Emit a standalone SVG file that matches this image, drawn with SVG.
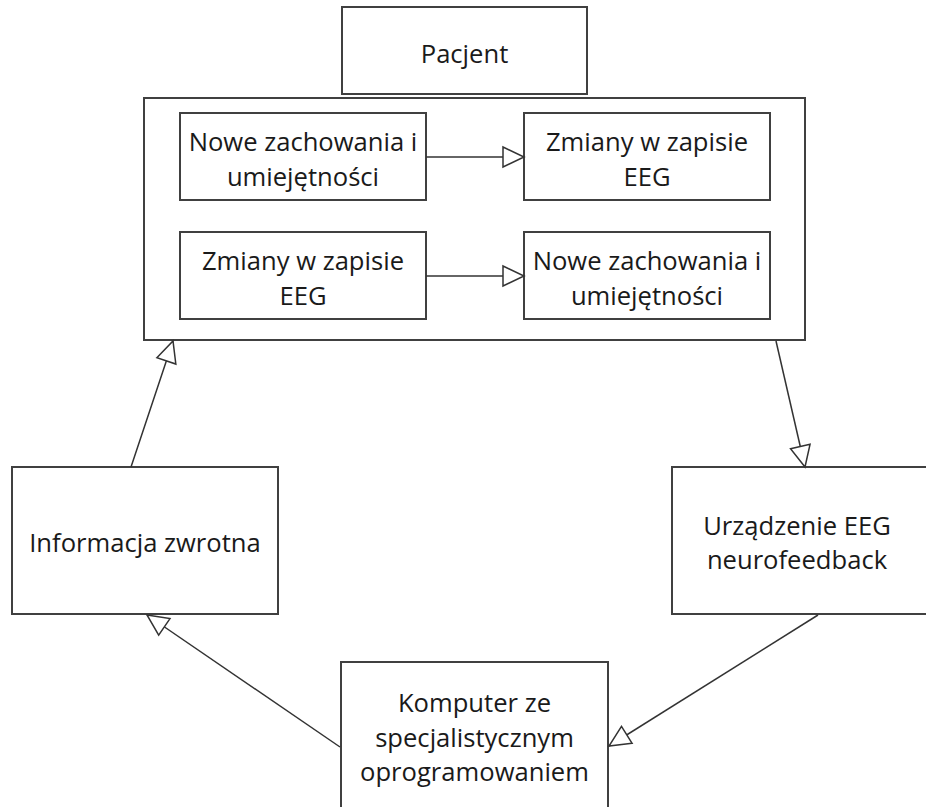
<svg xmlns="http://www.w3.org/2000/svg" width="926" height="807" viewBox="0 0 926 807">
<style>
.box{fill:#fff;stroke:#404040;stroke-width:2}
.lbl{font-family:"Open Sans","Noto Sans","Liberation Sans",sans-serif;font-size:25.6px;fill:#1a1a1a;text-anchor:middle}
.conn{stroke:#333;stroke-width:1.5;fill:none;marker-end:url(#tri)}
</style>
<defs>
<marker id="tri" markerUnits="userSpaceOnUse" markerWidth="26" markerHeight="26" viewBox="0 0 26 26" refX="23" refY="13" orient="auto">
<path d="M2,3 L23,13 L2,23 Z" fill="#fff" stroke="#333" stroke-width="1.5"/>
</marker>
</defs>
<rect width="926" height="807" fill="#fff"/>
<g id="pacjent">
<rect class="box" x="342" y="7" width="245" height="87"/>
<text class="lbl" x="464.5" y="63">Pacjent</text>
</g>
<g id="outer">
<rect class="box" x="144" y="98" width="661" height="242"/>
</g>
<g id="tl">
<rect class="box" x="180" y="113" width="246" height="87"/>
<text class="lbl" x="303" y="151">Nowe zachowania i</text>
<text class="lbl" x="303" y="185.5">umiejętności</text>
</g>
<g id="tr">
<rect class="box" x="524" y="113" width="246" height="87"/>
<text class="lbl" x="647" y="151">Zmiany w zapisie</text>
<text class="lbl" x="647" y="185.5">EEG</text>
</g>
<g id="bl">
<rect class="box" x="180" y="232" width="246" height="87"/>
<text class="lbl" x="303" y="270">Zmiany w zapisie</text>
<text class="lbl" x="303" y="304.5">EEG</text>
</g>
<g id="br">
<rect class="box" x="524" y="232" width="246" height="87"/>
<text class="lbl" x="647" y="270">Nowe zachowania i</text>
<text class="lbl" x="647" y="304.5">umiejętności</text>
</g>
<g id="informacja">
<rect class="box" x="12" y="467" width="266" height="147"/>
<text class="lbl" x="145" y="552">Informacja zwrotna</text>
</g>
<g id="urzadzenie">
<rect class="box" x="672" y="467" width="260" height="147"/>
<text class="lbl" x="797" y="534.5">Urządzenie EEG</text>
<text class="lbl" x="797" y="569">neurofeedback</text>
</g>
<g id="komputer">
<rect class="box" x="341" y="662" width="267" height="160"/>
<text class="lbl" x="474.5" y="712">Komputer ze</text>
<text class="lbl" x="474.5" y="746.5">specjalistycznym</text>
<text class="lbl" x="474.5" y="781">oprogramowaniem</text>
</g>
<g id="connectors">
<line class="conn" x1="426" y1="157" x2="524" y2="157"/>
<line class="conn" x1="426" y1="276" x2="524" y2="276"/>
<line class="conn" x1="776" y1="341" x2="805" y2="467"/>
<line class="conn" x1="818" y1="615" x2="609" y2="746"/>
<line class="conn" x1="340" y1="747" x2="147" y2="615"/>
<line class="conn" x1="131" y1="467" x2="173" y2="341"/>
</g>
</svg>
